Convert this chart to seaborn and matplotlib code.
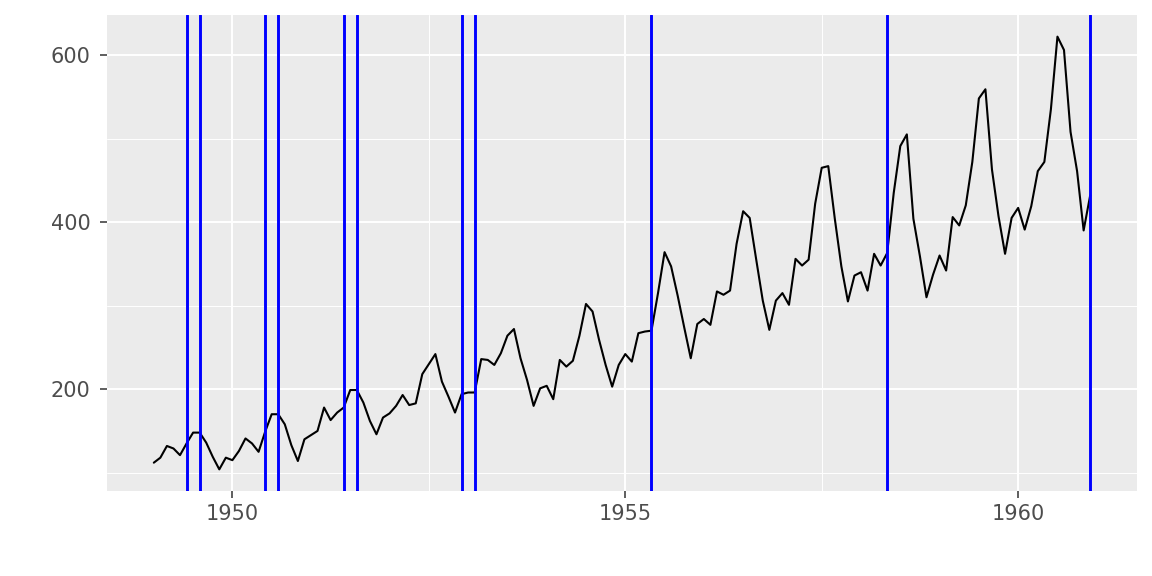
import numpy as np
import pandas as pd
import matplotlib
matplotlib.use("Agg")
import matplotlib.pyplot as plt
import seaborn as sns

# monthly air passengers 1949-1960 (thousands)
years = list(range(1949, 1961))
passengers = [
    112, 118, 132, 129, 121, 135, 148, 148, 136, 119, 104, 118,
    115, 126, 141, 135, 125, 149, 170, 170, 158, 133, 114, 140,
    145, 150, 178, 163, 172, 178, 199, 199, 184, 162, 146, 166,
    171, 180, 193, 181, 183, 218, 230, 242, 209, 191, 172, 194,
    196, 196, 236, 235, 229, 243, 264, 272, 237, 211, 180, 201,
    204, 188, 235, 227, 234, 264, 302, 293, 259, 229, 203, 229,
    242, 233, 267, 269, 270, 315, 364, 347, 312, 274, 237, 278,
    284, 277, 317, 313, 318, 374, 413, 405, 355, 306, 271, 306,
    315, 301, 356, 348, 355, 422, 465, 467, 404, 347, 305, 336,
    340, 318, 362, 348, 363, 435, 491, 505, 404, 359, 310, 337,
    360, 342, 406, 396, 420, 472, 548, 559, 463, 407, 362, 405,
    417, 391, 419, 461, 472, 535, 622, 606, 508, 461, 390, 432,
]
# marked months as (year, month index 0-11)
marks = [(1949, 5), (1949, 7), (1950, 5), (1950, 7), (1951, 5), (1951, 7),
         (1952, 11), (1953, 1), (1955, 4), (1958, 4), (1960, 11)]

time = [y + m / 12 for y in years for m in range(12)]
df = pd.DataFrame({"time": time, "value": passengers})

sns.set_theme(style="darkgrid", rc={
    "axes.facecolor": "#EBEBEB",
    "grid.color": "white",
    "xtick.color": "#333333",
    "ytick.color": "#333333",
})
plt.rcParams["font.family"] = ["DejaVu Sans"]

fig, ax = plt.subplots(figsize=(11.52, 5.76), dpi=100)
fig.subplots_adjust(left=107/1152, right=1137/1152, top=1-15/576, bottom=1-491/576)

sns.lineplot(data=df, x="time", y="value", color="black", linewidth=1.5, ax=ax)
for y, m in marks:
    ax.axvline(y + m / 12, color="blue", linewidth=2.1)

t0, t1 = min(time), max(time)
v0, v1 = min(passengers), max(passengers)
ax.set_xlim(t0 - 0.05 * (t1 - t0), t1 + 0.05 * (t1 - t0))
ax.set_ylim(v0 - 0.05 * (v1 - v0), v1 + 0.05 * (v1 - v0))

ax.set_xticks([1950, 1955, 1960])
ax.set_xticks([1952.5, 1957.5], minor=True)
ax.set_yticks([200, 400, 600])
ax.set_yticks([100, 300, 500], minor=True)
ax.grid(which="major", color="white", linewidth=1.4)
ax.grid(which="minor", color="white", linewidth=0.7)
ax.tick_params(which="major", length=5, width=1.1, color="#333333", pad=4,
               labelsize=15, labelcolor="#4D4D4D", bottom=True, left=True)
ax.tick_params(axis="y", which="major", pad=7)
ax.tick_params(which="minor", length=0)
ax.set_xlabel("")
ax.set_ylabel("")
for s in ax.spines.values():
    s.set_visible(False)

fig.savefig("out.png", dpi=100)
